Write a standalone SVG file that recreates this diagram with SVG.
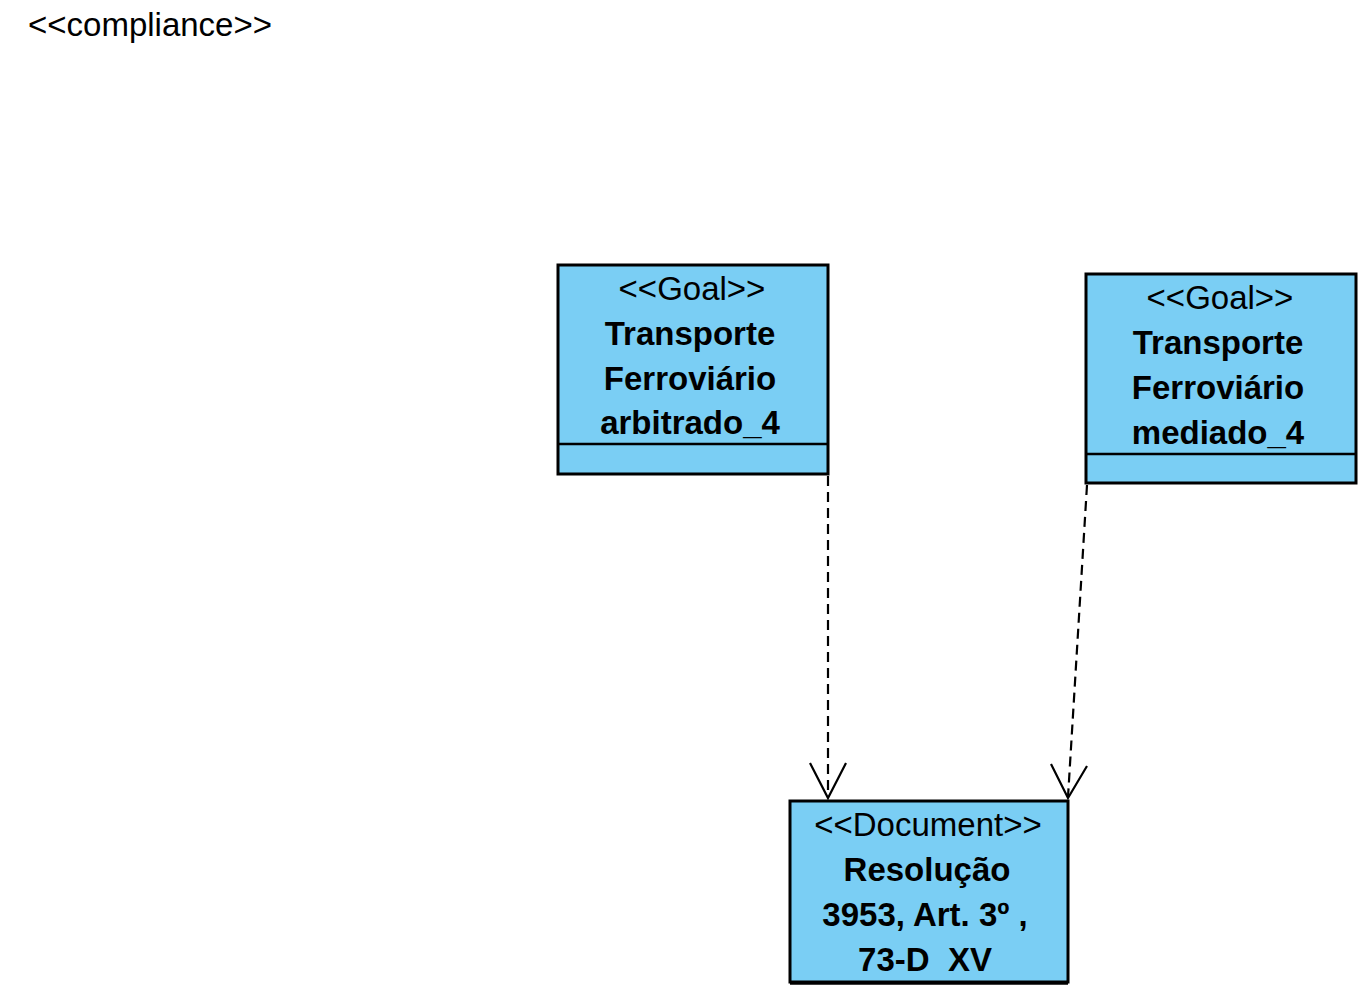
<svg xmlns="http://www.w3.org/2000/svg" width="1368" height="996" viewBox="0 0 1368 996">
<style>
.box{fill:#7acef4;stroke:#000;stroke-width:3}
.div{stroke:#000;stroke-width:2.5}
.st{font-family:"Liberation Sans",Arial,sans-serif;font-size:33px;fill:#000;text-anchor:middle}
.nm{font-family:"Liberation Sans",Arial,sans-serif;font-size:33px;font-weight:bold;fill:#000;text-anchor:middle}
.con{fill:none;stroke:#000;stroke-width:2.2;stroke-dasharray:10 6}
.head{fill:none;stroke:#000;stroke-width:2.2}
</style>
<rect width="1368" height="996" fill="#fff"/>
<text x="28" y="36" font-family="'Liberation Sans',Arial,sans-serif" font-size="33" fill="#000">&lt;&lt;compliance&gt;&gt;</text>
<g id="goal_arbitrado">
<rect class="box" x="558" y="265" width="270" height="209"/>
<line class="div" x1="558" y1="444" x2="828" y2="444"/>
<text class="st" x="692" y="300">&lt;&lt;Goal&gt;&gt;</text>
<text class="nm" x="690" y="345">Transporte</text>
<text class="nm" x="690" y="390">Ferroviário</text>
<text class="nm" x="690" y="434">arbitrado_4</text>
</g>
<g id="goal_mediado">
<rect class="box" x="1086" y="274" width="270" height="209"/>
<line class="div" x1="1086" y1="454" x2="1356" y2="454"/>
<text class="st" x="1220" y="309">&lt;&lt;Goal&gt;&gt;</text>
<text class="nm" x="1218" y="354">Transporte</text>
<text class="nm" x="1218" y="399">Ferroviário</text>
<text class="nm" x="1218" y="444">mediado_4</text>
</g>
<g id="document">
<rect class="box" x="790" y="801" width="278" height="181"/>
<line stroke="#000" stroke-width="3.5" x1="790" y1="983" x2="1068" y2="983"/>
<text class="st" x="928" y="836">&lt;&lt;Document&gt;&gt;</text>
<text class="nm" x="927" y="881">Resolução</text>
<text class="nm" x="925" y="926">3953, Art. 3º ,</text>
<text class="nm" x="925" y="971" xml:space="preserve">73-D  XV</text>
</g>
<g id="connectors">
<line class="con" x1="828" y1="476" x2="828" y2="797"/>
<polyline class="head" points="810,763 828,798 846,763"/>
<line class="con" x1="1087" y1="485" x2="1068" y2="797"/>
<polyline class="head" points="1051,764 1068,798 1087,766"/>
</g>
</svg>
